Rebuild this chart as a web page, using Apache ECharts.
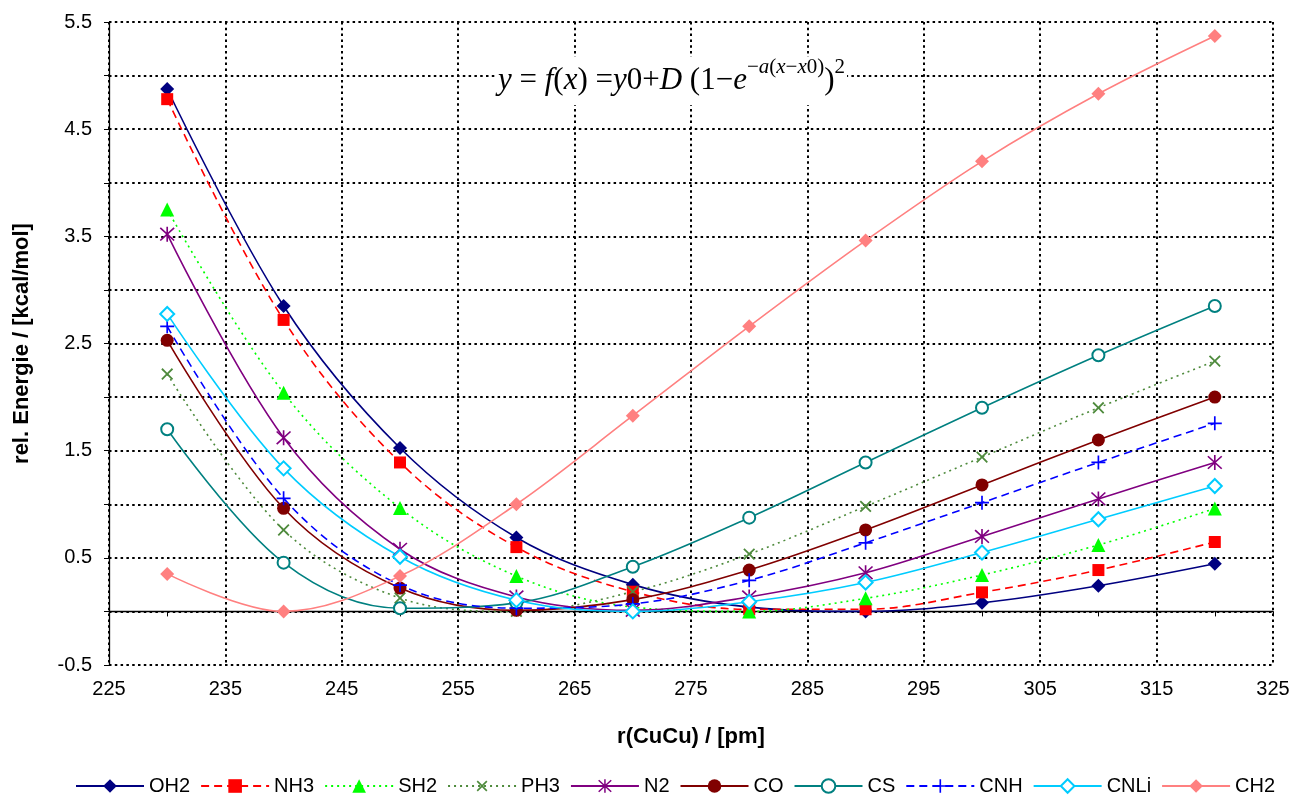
<!DOCTYPE html>
<html>
<head>
<meta charset="utf-8">
<script src="https://cdn.jsdelivr.net/npm/echarts@6/dist/echarts.min.js"></script>
<style>
  html, body { margin: 0; padding: 0; background: #fff; }
  #chart { width: 1293px; height: 796px; }
</style>
</head>
<body>
<div id="chart"></div>
<script>
// Cu–Cu distance scan: relative energies for each ligand
const rCuCu = [230, 240, 250, 260, 270, 280, 290, 300, 310, 320];

const OH2  = [4.875, 2.85, 1.525, 0.69, 0.25, 0.04, 0.0, 0.08, 0.24, 0.445];
const NH3  = [4.78, 2.72, 1.39, 0.60, 0.184, 0.02, 0.02, 0.178, 0.386, 0.648];
const SH2  = [3.75, 2.04, 0.965, 0.33, 0.04, 0.0, 0.122, 0.34, 0.62, 0.96];
const PH3  = [2.215, 0.76, 0.125, 0.0, 0.184, 0.535, 0.98, 1.44, 1.90, 2.336];
const N2   = [3.52, 1.62, 0.58, 0.135, 0.01, 0.135, 0.36, 0.70, 1.05, 1.39];
const CO   = [2.53, 0.962, 0.218, 0.01, 0.11, 0.386, 0.76, 1.18, 1.60, 2.00];
const CS   = [1.70, 0.455, 0.03, 0.08, 0.417, 0.875, 1.39, 1.90, 2.39, 2.85];
const CNH  = [2.66, 1.055, 0.246, 0.03, 0.07, 0.29, 0.64, 1.015, 1.39, 1.755];
const CNLi = [2.776, 1.335, 0.51, 0.105, 0.0, 0.09, 0.27, 0.55, 0.86, 1.17];
const CH2  = [0.35, 0.0, 0.33, 1.0, 1.826, 2.66, 3.46, 4.20, 4.83, 5.37];

const seriesNames = ['OH2', 'NH3', 'SH2', 'PH3', 'N2', 'CO', 'CS', 'CNH', 'CNLi', 'CH2'];
const seriesValues = [OH2, NH3, SH2, PH3, N2, CO, CS, CNH, CNLi, CH2];

// marker shapes drawn as filled outlines
const PLUS = 'path://M-0.6,-5 L0.6,-5 L0.6,-0.6 L5,-0.6 L5,0.6 L0.6,0.6 L0.6,5 L-0.6,5 L-0.6,0.6 L-5,0.6 L-5,-0.6 L-0.6,-0.6 Z';
const STAR = 'path://M-0.5,-5 L0.5,-5 L0.5,5 L-0.5,5 Z ' +
             'M-3.85,-4.55 L4.55,3.85 L3.85,4.55 L-4.55,-3.85 Z ' +
             'M4.55,-3.85 L-3.85,4.55 L-4.55,3.85 L3.85,-4.55 Z';

const styles = {
  OH2:  { color: '#000080', type: 'solid',  symbol: 'diamond',      size: 14 },
  NH3:  { color: '#FF0000', type: [8, 5],   symbol: 'rect',         size: 12 },
  SH2:  { color: '#00FF00', type: [2, 4],   symbol: 'triangle',     size: 14 },
  PH3:  { color: '#4E8A3C', type: [2, 4],   symbol: PLUS, rotate: 45, size: 15 },
  N2:   { color: '#800080', type: 'solid',  symbol: STAR,           size: 15 },
  CO:   { color: '#800000', type: 'solid',  symbol: 'circle',       size: 13 },
  CS:   { color: '#008080', type: 'solid',  symbol: 'emptyCircle',  size: 12 },
  CNH:  { color: '#0000FF', type: [8, 5],   symbol: PLUS,           size: 14 },
  CNLi: { color: '#00CCFF', type: 'solid',  symbol: 'emptyDiamond', size: 14 },
  CH2:  { color: '#FF8080', type: 'solid',  symbol: 'diamond',      size: 14 }
};

const series = seriesNames.map((name, i) => {
  const s = styles[name];
  const empty = s.symbol.indexOf('empty') === 0;
  return {
    name: name,
    type: 'line',
    xAxisIndex: 0,
    yAxisIndex: 0,
    data: rCuCu.map((r, k) => [r, seriesValues[i][k]]),
    smooth: 0.35,
    symbol: s.symbol,
    symbolSize: s.size,
    symbolRotate: s.rotate || 0,
    showAllSymbol: true,
    lineStyle: { color: s.color, width: 1.6, type: s.type },
    itemStyle: { color: s.color, borderColor: s.color, borderWidth: empty ? 1.5 : 0 },
    emphasis: { disabled: true },
    z: 3
  };
});

const font = 'Liberation Sans, Arial, sans-serif';
const serif = 'Liberation Serif, Times New Roman, serif';
const dotted = { color: '#000', width: 2, type: [2.5, 3.3] };

const chart = echarts.init(document.getElementById('chart'), null, { renderer: 'canvas' });
chart.setOption({
  animation: false,
  backgroundColor: '#fff',
  grid: { left: 109, right: 20, top: 22, bottom: 131, containLabel: false },
  legend: {
    data: seriesNames,
    left: 70,
    top: 771,
    width: 1222,
    orient: 'horizontal',
    itemWidth: 68,
    itemHeight: 17,
    itemGap: 10,
    textStyle: { fontFamily: font, fontSize: 20, color: '#000' }
  },
  xAxis: [
    {
      type: 'value',
      min: 225, max: 325, interval: 10,
      position: 'bottom',
      axisLine: { show: false, onZero: false },
      axisTick: { show: false },
      axisLabel: { fontFamily: font, fontSize: 20, color: '#000', margin: 14 },
      splitLine: { show: true, lineStyle: dotted },
      name: 'r(CuCu) / [pm]',
      nameLocation: 'middle',
      nameGap: 61,
      nameTextStyle: { fontFamily: font, fontSize: 22, fontWeight: 'bold', color: '#000' }
    },
    {
      // zero line with small ticks
      type: 'value',
      min: 225, max: 325, interval: 5,
      position: 'bottom',
      axisLine: { show: true, onZero: true, onZeroAxisIndex: 0, lineStyle: { color: '#000', width: 1.3 } },
      axisTick: { show: true, length: 5, lineStyle: { color: '#000', width: 1 } },
      axisLabel: { show: false },
      splitLine: { show: false }
    }
  ],
  yAxis: {
    type: 'value',
    min: -0.5, max: 5.5, interval: 0.5,
    axisLine: { show: true, onZero: false, lineStyle: { color: '#000', width: 1.3 } },
    axisTick: { show: true, length: 5, lineStyle: { color: '#000', width: 1 } },
    axisLabel: {
      fontFamily: font, fontSize: 20, color: '#000', margin: 17,
      formatter: v => (Math.round((v + 0.5) * 2) % 2 === 0 ? v.toFixed(1) : '')
    },
    splitLine: { show: true, lineStyle: dotted },
    name: 'rel. Energie / [kcal/mol]',
    nameLocation: 'middle',
    nameGap: 76,
    nameTextStyle: { fontFamily: font, fontSize: 22, fontWeight: 'bold', color: '#000' }
  },
  graphic: [{
    type: 'text',
    left: 496,
    top: 57,
    z: 20,
    style: {
      text: '{i|y}{m| = }{i|f}{m|(}{i|x}{m|) =}{i|y}{m|0+}{i|D}{m| (1−}{i|e}' +
            '{s|−}{si|a}{s|(}{si|x}{s|−}{si|x}{s|0)}{m|)}{s|2}',
      backgroundColor: '#fff',
      padding: [0, 2, 0, 2],
      rich: {
        m:  { fontFamily: serif, fontSize: 31, lineHeight: 48, fill: '#000' },
        i:  { fontFamily: serif, fontSize: 31, fontStyle: 'italic', lineHeight: 48, fill: '#000' },
        s:  { fontFamily: serif, fontSize: 21, lineHeight: 16, verticalAlign: 'top', fill: '#000' },
        si: { fontFamily: serif, fontSize: 21, fontStyle: 'italic', lineHeight: 16, verticalAlign: 'top', fill: '#000' }
      }
    }
  }],
  series: series
});
</script>
</body>
</html>
